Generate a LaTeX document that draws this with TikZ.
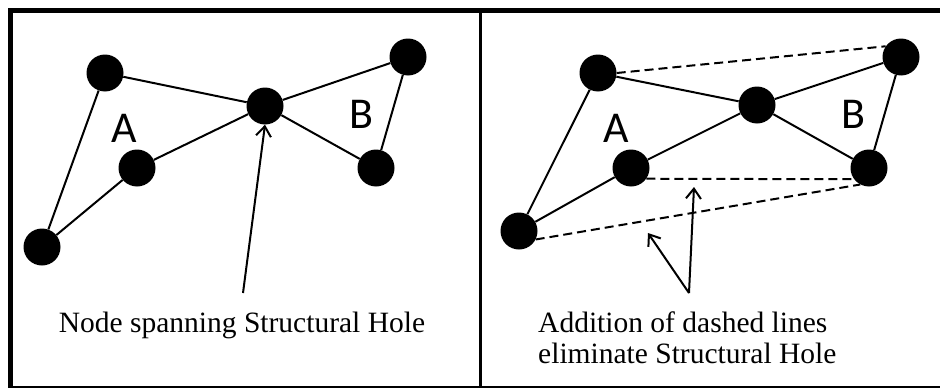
\documentclass[tikz,border=0pt]{standalone}
\usepackage{fontspec}
\setmainfont{Liberation Serif}
\newfontfamily\grpfont{Carlito}
\usetikzlibrary{arrows.meta}
\tikzset{
  vtx/.style={circle, fill=black, minimum size=37pt, inner sep=0pt},
  grp/.style={font=\grpfont\fontsize{44}{44}\selectfont, inner sep=0pt},
  edge/.style={line width=2pt},
  newedge/.style={line width=2pt, dash pattern=on 9pt off 5pt},
  ptr/.style={line width=2pt, -{Straight Barb[length=10pt,width=15pt,line width=2pt]}},
  caption/.style={font=\fontsize{29.5}{31}\selectfont, inner sep=0pt}
}

\begin{document}
\begin{tikzpicture}[x=1pt, y=-1pt]
    \useasboundingbox (0,0) rectangle (940,388);
    % frame and divider
    \draw[line width=5pt] (10,388) -- (10,10) -- (940,10);
    \draw[line width=1.5pt] (10,387) -- (940,387);
    \draw[line width=3pt] (480,10) -- (480,387);

    % left panel: one node bridges the two groups
    \node[vtx] (a1) at (105,73) {};
    \node[vtx] (hub) at (265,106) {};
    \node[vtx] (b1) at (408,57) {};
    \node[vtx] (a2) at (137,168) {};
    \node[vtx] (b2) at (376,168) {};
    \node[vtx] (a3) at (42,247) {};
    \node[grp] (ga) at (124,128) {A};
    \node[grp] (gb) at (361,114) {B};
    \draw[edge] (a1) -- (hub) -- (b1) -- (b2) -- (hub) -- (a2) -- (a3) -- (a1);
    \coordinate (p0) at (243,293);
    \draw[ptr] (p0) -- (hub.south);
    \node[caption, anchor=base] (capl) at (242,332) {Node spanning Structural Hole};

    % right panel: the same graph with extra ties
    \node[vtx] (c1) at (598,73) {};
    \node[vtx] (mid) at (757,105) {};
    \node[vtx] (d1) at (901,57) {};
    \node[vtx] (c2) at (631,168) {};
    \node[vtx] (d2) at (869,168) {};
    \node[vtx] (c3) at (519,231) {};
    \node[grp] (ha) at (616,128) {A};
    \node[grp] (hb) at (853,114) {B};
    \draw[edge] (c1) -- (mid) -- (d1) -- (d2) -- (mid) -- (c2) -- (c3) -- (c1);
    \draw[newedge] (c1.east) -- (d1.145);
    \draw[newedge] (c2.-35) -- (d2.217);
    \draw[newedge] (c3.-27) -- (d2.242);
    \coordinate (q0) at (689,293);
    \coordinate (q1) at (694,187);
    \coordinate (q2) at (648,233);
    \draw[ptr] (q0) -- (q1);
    \draw[ptr] (q0) -- (q2);
    \node[caption, anchor=north west, align=left] (capr) at (538,312)
      {Addition of dashed lines\\eliminate Structural Hole};
\end{tikzpicture}
\end{document}
